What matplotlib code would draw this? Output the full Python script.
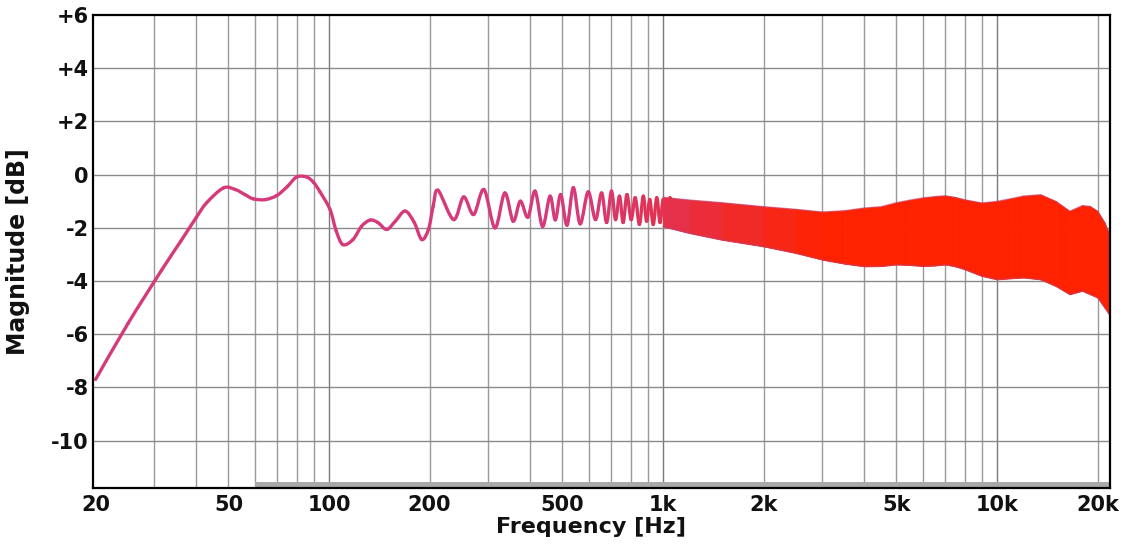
import numpy as np
import matplotlib
matplotlib.use("Agg")
import matplotlib.pyplot as plt
from matplotlib.path import Path
from matplotlib.patches import PathPatch
from matplotlib.colors import to_rgb

# ---- data ----
# resolved part of the response (frequency in Hz, magnitude in dB)
line_freq = [20, 25, 31.5, 36, 40, 43, 48.3, 52.4, 56, 59.3, 64.3, 69.7, 75, 80, 85.7, 90, 94,
             100.7, 105, 110, 118, 125, 132.7, 140, 148.9, 158, 169, 180, 189.5, 198.5, 205,
             212, 236, 253, 271, 291, 314, 336, 356, 374, 394, 414, 436, 459, 476, 494, 516,
             539, 565, 597, 628, 655, 678, 701, 721, 741, 760, 780, 803, 826, 850, 873, 893,
             913, 935, 958, 980, 1002, 1026, 1050, 1072]
line_db = [-7.7, -5.6, -3.6, -2.5, -1.62, -1.06, -0.5, -0.56, -0.75, -0.91, -0.94, -0.79, -0.45, -0.09, -0.09, -0.3, -0.65,
           -1.31, -2.1, -2.63, -2.44, -1.95, -1.71, -1.8, -2.06, -1.75, -1.37, -1.8, -2.44, -2.06, -1.2,
           -0.59, -1.69, -0.84, -1.5, -0.56, -2.0, -0.69, -1.75, -1.0, -1.6, -0.62, -1.95, -0.81, -1.7, -0.75, -1.9,
           -0.49, -1.85, -0.65, -1.69, -0.69, -1.8, -0.62, -1.69, -0.81, -1.8, -0.75, -1.69, -0.87, -1.87, -0.81, -1.75,
           -0.94, -1.87, -0.87, -1.8, -0.94, -1.87, -0.87, -1.94]

# dense comb region: upper / lower envelope of the ripple
env_freq = [1000, 1200, 1500, 2000, 2500, 3000, 3500, 4000, 4500, 5000, 5500, 6000, 6500, 7000,
            7500, 8000, 9000, 10000, 11000, 12000, 13500, 15000, 16500, 18000, 19000, 20000, 21000, 21800]
env_upper = [-0.85, -0.95, -1.05, -1.2, -1.3, -1.4, -1.35, -1.25, -1.2, -1.05, -0.95, -0.87, -0.82, -0.79,
             -0.85, -0.94, -1.06, -1.0, -0.9, -0.8, -0.75, -1.0, -1.37, -1.16, -1.19, -1.37, -1.8, -2.3]
env_lower = [-1.95, -2.2, -2.45, -2.7, -2.95, -3.2, -3.35, -3.45, -3.44, -3.38, -3.4, -3.44, -3.42, -3.38,
             -3.45, -3.56, -3.81, -3.94, -3.9, -3.87, -3.94, -4.19, -4.5, -4.37, -4.5, -4.62, -5.0, -5.3]

# gray band at the bottom
band_freq = [60, 21800]

xtick_vals = [20, 50, 100, 200, 500, 1000, 2000, 5000, 10000, 20000]
xtick_labels = ["20", "50", "100", "200", "500", "1k", "2k", "5k", "10k", "20k"]
ytick_vals = [6, 4, 2, 0, -2, -4, -6, -8, -10]
ytick_labels = ["+6", "+4", "+2", "0", "-2", "-4", "-6", "-8", "-10"]

# ---- styling ----
XMIN, XMAX = 19.65, 21800
YMIN, YMAX = -11.78, 6.0
PINK = np.array(to_rgb("#d53a7b"))
RED = np.array(to_rgb("#ff2200"))


def col(f):
    t = (np.log10(f) - np.log10(550)) / (np.log10(3000) - np.log10(550))
    t = float(np.clip(t, 0, 1))
    return tuple(PINK * (1 - t) + RED * t)


plt.rcParams['font.family'] = ['DejaVu Sans']
fig = plt.figure(figsize=(11.31, 5.46), dpi=100)
ax = fig.add_axes([93 / 1131, 1 - 488 / 546, (1110 - 93) / 1131, (488 - 15) / 546])
ax.set_xscale("log")
ax.set_xlim(XMIN, XMAX)
ax.set_ylim(YMIN, YMAX)

# grid
grid_x = [30, 40, 50, 60, 70, 80, 90, 100, 200, 300, 400, 500, 600, 700, 800, 900, 1000,
          2000, 3000, 4000, 5000, 6000, 7000, 8000, 9000, 10000, 20000]
for gx in grid_x:
    c = "#7a7a7a" if gx in (100, 1000, 10000) else "#9a9a9a"
    ax.axvline(gx, color=c, lw=1.0, zorder=1)
for gy in [4, 2, 0, -2, -4, -6, -8, -10]:
    ax.axhline(gy, color="#8a8a8a", lw=1.0, zorder=1)

# bottom band
ax.fill_between(band_freq, [YMIN, YMIN], [YMIN + 0.22, YMIN + 0.22], color="#a9a9a9", lw=0, zorder=2)

# dense comb region (filled envelope with colour gradient)
for i in range(len(env_freq) - 1):
    fs = env_freq[i:i + 2]
    c = col(np.sqrt(fs[0] * fs[1]))
    ax.fill_between(fs, env_lower[i:i + 2], env_upper[i:i + 2], facecolor=c, edgecolor=c, lw=0.6, zorder=3)
ax.plot(env_freq, env_upper, color="#b8407a", lw=0.8, alpha=0.6, zorder=3)
ax.plot(env_freq, env_lower, color="#b8407a", lw=0.8, alpha=0.6, zorder=3)

# resolved line, drawn as smooth Bezier segments through the read points
u = np.log10(np.asarray(line_freq, float))
v = np.asarray(line_db, float)
n = len(u)
for i in range(n - 1):
    p0 = np.array([u[max(i - 1, 0)], v[max(i - 1, 0)]])
    p1 = np.array([u[i], v[i]])
    p2 = np.array([u[i + 1], v[i + 1]])
    p3 = np.array([u[min(i + 2, n - 1)], v[min(i + 2, n - 1)]])
    c1 = p1 + (p2 - p0) / 6.0
    c2 = p2 - (p3 - p1) / 6.0
    verts = np.array([p1, c1, c2, p2])
    verts[:, 0] = 10 ** verts[:, 0]
    path = Path(verts, [Path.MOVETO, Path.CURVE4, Path.CURVE4, Path.CURVE4])
    c = col(np.sqrt(line_freq[i] * line_freq[i + 1]))
    ax.add_patch(PathPatch(path, facecolor="none", edgecolor=c, lw=2.4,
                           capstyle="round", joinstyle="round", zorder=4))

# ticks
ax.set_xticks(xtick_vals)
ax.set_xticklabels(xtick_labels)
ax.xaxis.set_minor_locator(matplotlib.ticker.NullLocator())
ax.set_yticks(ytick_vals)
ax.set_yticklabels(ytick_labels)
ax.tick_params(axis="both", length=0, labelsize=15, colors="#111111")
ax.tick_params(axis="x", pad=5)
ax.tick_params(axis="y", pad=3)
for lab in ax.get_xticklabels() + ax.get_yticklabels():
    lab.set_fontweight("bold")

ax.set_xlabel("Frequency [Hz]", fontsize=16, fontweight="bold", color="#111111")
ax.xaxis.set_label_coords((591 - 93) / 1017, -0.062)
ax.set_ylabel("Magnitude [dB]", fontsize=17, fontweight="bold", color="#111111")
ax.yaxis.set_label_coords(-0.062, 0.5)

for s in ax.spines.values():
    s.set_color("black")
    s.set_linewidth(1.6)
    s.set_zorder(6)

fig.savefig("out.png", dpi=100)
